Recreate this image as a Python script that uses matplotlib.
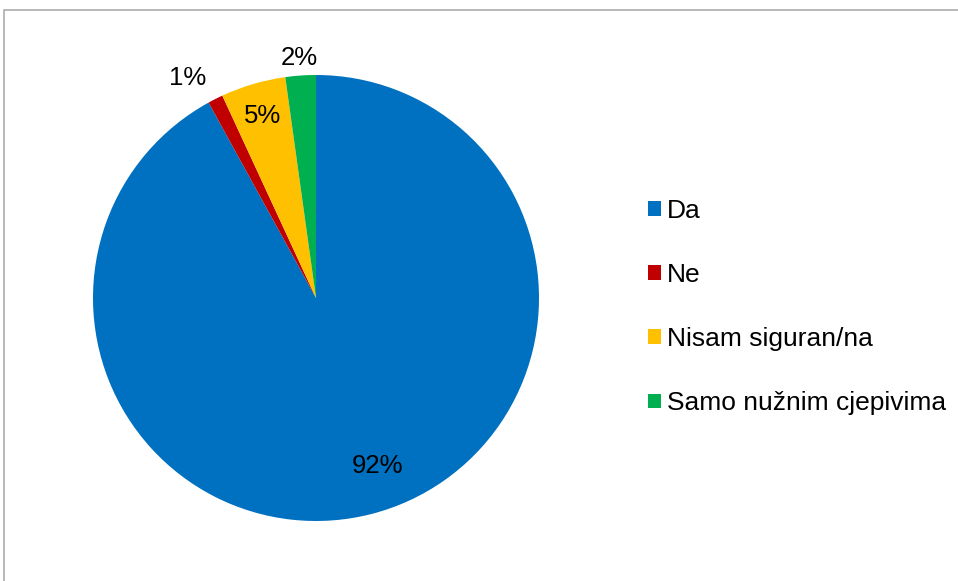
import matplotlib
matplotlib.use("Agg")
import matplotlib.pyplot as plt
import numpy as np
from matplotlib.patches import Rectangle, Patch

categories = ["Da", "Ne", "Nisam siguran/na", "Samo nužnim cjepivima"]
values = [92.0, 1.1, 4.7, 2.2]
colors = ["#0070C0", "#C00000", "#FFC000", "#00B050"]

# label placement (radial distance, angular offset in degrees)
label_dist = [0.80, 1.14, 0.85, 1.08]
label_off = [5.7, 3.4, 0.0, 0.0]

plt.rcParams['font.family'] = ['Liberation Sans', 'DejaVu Sans']

W, H = 958, 581
fig = plt.figure(figsize=(W / 100, H / 100), dpi=100)
cx, cy, r = 316, 298, 223
ax = fig.add_axes([(cx - r) / W, (H - cy - r) / H, 2 * r / W, 2 * r / H])
wedges, _ = ax.pie(values, colors=colors, startangle=90, counterclock=False,
                   radius=1, wedgeprops=dict(linewidth=0))
ax.set_xlim(-1, 1)
ax.set_ylim(-1, 1)
ax.set_aspect('equal')
ax.axis('off')

for w, v, d, off in zip(wedges, values, label_dist, label_off):
    mid = np.deg2rad((w.theta1 + w.theta2) / 2 + off)
    ax.text(d * np.cos(mid), d * np.sin(mid), f"{v:.0f}%", ha='center', va='center',
            fontsize=18.5, color='black', clip_on=False)

handles = [Patch(facecolor=c, edgecolor='none') for c in colors]
fig.legend(handles, categories, loc='upper left', bbox_to_anchor=(648 / W, 1 - 199 / H),
           frameon=False, fontsize=19, handlelength=0.49, handleheight=0.49,
           handletextpad=0.23, labelspacing=1.52, borderaxespad=0, borderpad=0)

fig.patches.append(Rectangle((3.5 / W, -0.05), 1.1, (H - 10.5) / H + 0.05,
                             transform=fig.transFigure, fill=False,
                             edgecolor='#A6A6A6', linewidth=1.1))

fig.savefig("out.png", dpi=100)
